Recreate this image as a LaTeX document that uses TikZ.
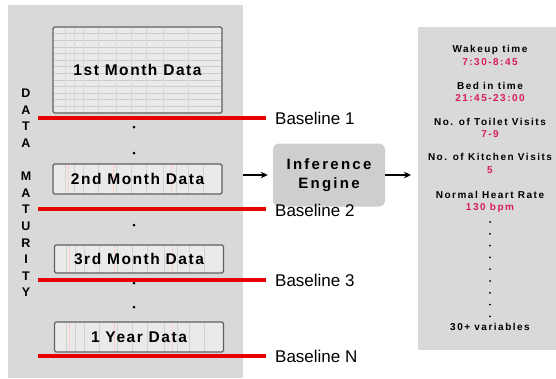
\documentclass[tikz,border=0pt]{standalone}
\usepackage{fontspec}
\setmainfont{Liberation Sans}
\newfontfamily\widebf{Liberation Sans Bold}[LetterSpace=10]
\newfontfamily\itembf{Liberation Sans Bold}[LetterSpace=15]
\usepackage{tikz}
\usetikzlibrary{arrows.meta,positioning}
\definecolor{panelc}{HTML}{D9D9D9}
\definecolor{boxc}{HTML}{EAEAEA}
\definecolor{valc}{HTML}{D81E5B}
\definecolor{linec}{HTML}{E60000}
\tikzset{
  panel/.style={fill=panelc,draw=none,inner sep=0pt,anchor=north west},
  databox/.style={draw=gray!75!black,line width=1.2pt,fill=boxc,rounded corners=1.5pt,minimum width=169pt,inner sep=0pt,font=\widebf\fontsize{15.5}{18}\selectfont},
  tablebox/.style={databox,path picture={
      \foreach \k in {1,...,12}
        \draw[gray!40,line width=0.4pt] ([yshift=-\k*6.6pt]path picture bounding box.north west) -- ([yshift=-\k*6.6pt]path picture bounding box.north east);
      \foreach \k in {12,21,30,45,63,78,93,110,135}
        \draw[gray!30,line width=0.4pt] ([xshift=\k pt]path picture bounding box.north west) -- ([xshift=\k pt]path picture bounding box.south west);}},
  stripbox/.style={databox,path picture={
      \foreach \k in {12,21,30,45,63,78,93,110,123,135,150}
        \draw[gray!35,line width=0.5pt] ([xshift=\k pt]path picture bounding box.north west) -- ([xshift=\k pt]path picture bounding box.south west);
      \foreach \k in {15,60,118}
        \draw[red!20,line width=0.5pt] ([xshift=\k pt]path picture bounding box.north west) -- ([xshift=\k pt]path picture bounding box.south west);}},
  baseln/.style={linec,line width=3.5pt,shorten >=9pt},
  bltext/.style={anchor=west,inner sep=0pt,font=\fontsize{17}{20}\selectfont},
  ar/.style={-{Stealth[length=7pt,width=6.5pt]},line width=2.2pt,shorten >=5pt},
  item/.style={font=\itembf\fontsize{10}{12}\selectfont,inner sep=0pt},
  val/.style={item,text=valc},
  dotm/.style={circle,fill=black,inner sep=0pt,minimum size=3pt}
}
\begin{document}
\begin{tikzpicture}[x=1pt,y=-1pt]
\useasboundingbox (0,0) rectangle (556,378);
% panels
\node[panel,minimum width=235pt,minimum height=373pt] (left) at (8,5) {};
\node[panel,minimum width=138pt,minimum height=323pt] (right) at (418,27) {};
% engine
\node[fill=panelc!95!black,rounded corners=6pt,minimum width=112pt,minimum height=63pt,align=center,font=\itembf\fontsize{15}{19}\selectfont] (eng) at (329,175) {Inference\\Engine};
\draw[ar] (eng.west -| left.east) -- (eng.west);
\draw[ar,shorten >=7pt] (eng.east) -- (eng.east -| right.west);
% data boxes
\node[tablebox,minimum height=86pt] (m1) at (137.5,70) {1st Month Data};
\node[stripbox,minimum height=30pt] (m2) at (137.5,179) {2nd Month Data};
\node[stripbox,minimum height=28pt] (m3) at (139,259) {3rd Month Data};
\node[stripbox,minimum height=30pt] (m4) at (139,337) {1 Year Data};
\node[dotm] (d1) at (134,127) {};
\node[dotm] (d2) at (134,153) {};
\node[dotm] (d3) at (134,225) {};
\node[dotm] (d4) at (134,283) {};
\node[dotm] (d5) at (134,307) {};
% data maturity
\node[align=center,inner sep=0pt,font=\bfseries\fontsize{12.5}{16.6}\selectfont] (dm) at (26,193) {D\\A\\T\\A\\[16.6pt]M\\A\\T\\U\\R\\I\\T\\Y};
% baselines
\node[bltext] (bl1) at (275,118) {Baseline 1};
\node[bltext] (bl2) at (275,210) {Baseline 2};
\node[bltext] (bl3) at (275,280) {Baseline 3};
\node[bltext] (bl4) at (275,356) {Baseline N};
\coordinate (s1) at (38,118);
\coordinate (s2) at (38,209);
\coordinate (s3) at (38,280);
\coordinate (s4) at (38,356);
\draw[baseln] (s1) -- (bl1.west |- s1);
\draw[baseln] (s2) -- (bl2.west |- s2);
\draw[baseln] (s3) -- (bl3.west |- s3);
\draw[baseln] (s4) -- (bl4.west |- s4);
% variables
\node[item] (t1) at (490,50) {Wakeup time};
\node[val] (v1) at (490,62) {7:30-8:45};
\node[item] (t2) at (490,86) {Bed in time};
\node[val] (v2) at (490,98) {21:45-23:00};
\node[item] (t3) at (490,122) {No. of Toilet Visits};
\node[val] (v3) at (490,134) {7-9};
\node[item] (t4) at (490,157) {No. of Kitchen Visits};
\node[val] (v4) at (490,170) {5};
\node[item] (t5) at (490,195) {Normal Heart Rate};
\node[val] (v5) at (490,208) {130 bpm};
\foreach \i in {0,...,8}
  \node[dotm,minimum size=2pt] (rd\i) at (490,222+11.8*\i) {};
\node[item] (t6) at (490,327) {30+ variables};
\end{tikzpicture}
\end{document}
